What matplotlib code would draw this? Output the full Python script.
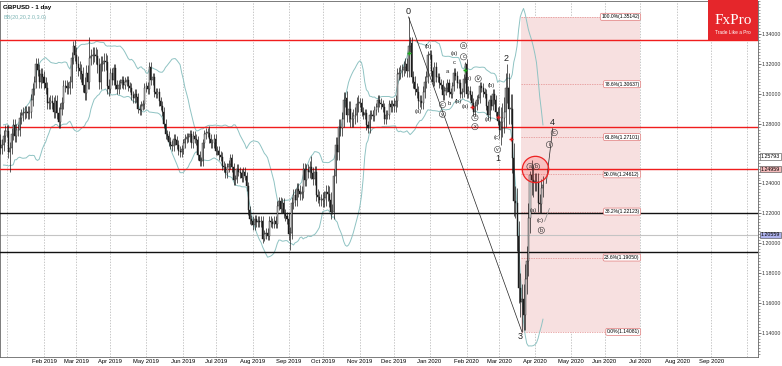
import numpy as np
import pandas as pd
import matplotlib
matplotlib.use("Agg")
import matplotlib.pyplot as plt
from matplotlib.patches import Rectangle

plt.rcParams['font.family'] = ['Liberation Sans', 'DejaVu Sans']

# daily closes per month (business days)
dec18 = [1.2740, 1.2720, 1.2730, 1.2770, 1.2730, 1.2560, 1.2490, 1.2640, 1.2580, 1.2580,
         1.2640, 1.2650, 1.2640, 1.2670, 1.2640, 1.2660, 1.2690, 1.2640, 1.2660, 1.2720, 1.2750]
jan19 = [1.2750, 1.2610, 1.2640, 1.2730, 1.2790, 1.2720, 1.2760, 1.2760, 1.2840, 1.2860,
         1.2870, 1.2880, 1.2880, 1.2870, 1.2880, 1.2960, 1.3030, 1.3080, 1.3200, 1.3160,
         1.3080, 1.3130, 1.3110]
feb19 = [1.3075, 1.3040, 1.2940, 1.2940, 1.2950, 1.2940, 1.2880, 1.2950, 1.2870, 1.2810,
         1.2900, 1.2940, 1.3050, 1.3050, 1.3040, 1.3040, 1.3080, 1.3240, 1.3320, 1.3260]
mar19 = [1.3200, 1.3170, 1.3150, 1.3130, 1.3060, 1.3005, 1.3140, 1.3080, 1.3240, 1.3250,
         1.3260, 1.3260, 1.3250, 1.3190, 1.3080, 1.3200, 1.3200, 1.3220, 1.3210, 1.3050, 1.3035]
apr19 = [1.3140, 1.3090, 1.3170, 1.3060, 1.3030, 1.3060, 1.3070, 1.3090, 1.3060, 1.3080,
         1.3090, 1.3050, 1.3040, 1.2990, 1.2970, 1.3000, 1.2975, 1.2900, 1.2890, 1.2920,
         1.2930, 1.3040]
may19 = [1.3050, 1.3030, 1.3180, 1.3090, 1.3110, 1.3010, 1.3000, 1.3010, 1.2950, 1.2920,
         1.2880, 1.2800, 1.2730, 1.2720, 1.2680, 1.2660, 1.2650, 1.2700, 1.2690, 1.2660,
         1.2620, 1.2610, 1.2630]
jun19 = [1.2670, 1.2700, 1.2710, 1.2710, 1.2730, 1.2670, 1.2720, 1.2700, 1.2690, 1.2590,
         1.2550, 1.2550, 1.2670, 1.2730, 1.2740, 1.2740, 1.2700, 1.2670, 1.2670, 1.2700]
jul19 = [1.2620, 1.2620, 1.2590, 1.2580, 1.2520, 1.2510, 1.2470, 1.2510, 1.2530, 1.2570,
         1.2510, 1.2420, 1.2430, 1.2500, 1.2480, 1.2470, 1.2440, 1.2480, 1.2450, 1.2380,
         1.2220, 1.2160, 1.2150]
aug19 = [1.2120, 1.2160, 1.2140, 1.2150, 1.2140, 1.2150, 1.2030, 1.2060, 1.2070, 1.2050,
         1.2150, 1.2140, 1.2130, 1.2150, 1.2130, 1.2250, 1.2280, 1.2230, 1.2270, 1.2200,
         1.2180, 1.2160]
sep19 = [1.2060, 1.2070, 1.2270, 1.2320, 1.2290, 1.2360, 1.2350, 1.2330, 1.2340, 1.2500,
         1.2420, 1.2490, 1.2480, 1.2510, 1.2470, 1.2430, 1.2480, 1.2320, 1.2310, 1.2290, 1.2290]
oct19 = [1.2290, 1.2300, 1.2340, 1.2330, 1.2290, 1.2210, 1.2210, 1.2450, 1.2660, 1.2610,
         1.2780, 1.2770, 1.2830, 1.2960, 1.2970, 1.2860, 1.2900, 1.2830, 1.2830, 1.2850,
         1.2860, 1.2930, 1.2940]
nov19 = [1.2940, 1.2880, 1.2860, 1.2870, 1.2790, 1.2770, 1.2860, 1.2860, 1.2850, 1.2890,
         1.2910, 1.2960, 1.2940, 1.2930, 1.2910, 1.2830, 1.2860, 1.2860, 1.2930, 1.2910, 1.2930]
dec19 = [1.2920, 1.2950, 1.3130, 1.3140, 1.3150, 1.3160, 1.3180, 1.3200, 1.3150, 1.3320,
         1.3340, 1.3110, 1.3080, 1.3030, 1.3010, 1.2950, 1.2950, 1.2940, 1.3010, 1.3080,
         1.3110, 1.3260]
jan20 = [1.3260, 1.3150, 1.3080, 1.3180, 1.3110, 1.3110, 1.3070, 1.3060, 1.2990, 1.3020,
         1.3040, 1.3070, 1.3010, 1.3000, 1.3050, 1.3140, 1.3120, 1.3070, 1.3070, 1.3000,
         1.3010, 1.3100, 1.3200]
feb20 = [1.3000, 1.3020, 1.2990, 1.2940, 1.2880, 1.2920, 1.2960, 1.2970, 1.3050, 1.3040,
         1.3010, 1.3000, 1.2920, 1.2860, 1.2960, 1.2920, 1.3000, 1.2960, 1.2880, 1.2820]
mar20 = [1.2760, 1.2810, 1.2840, 1.2880, 1.3040, 1.3040, 1.2900, 1.2900, 1.2570, 1.2280,
         1.2270, 1.2050, 1.1700, 1.1610, 1.1630, 1.1520, 1.1760, 1.1880, 1.2170, 1.2460,
         1.2420, 1.2410]
apr20 = [1.2410, 1.2410, 1.2270, 1.2265, 1.2370, 1.2390]

months = [dec18, jan19, feb19, mar19, apr19, may19, jun19, jul19, aug19, sep19,
          oct19, nov19, dec19, jan20, feb20, mar20, apr20]
# typical wick beyond the body, per month
wick_m = [0.004, 0.004, 0.004, 0.005, 0.003, 0.003, 0.003, 0.003, 0.003, 0.004,
          0.005, 0.003, 0.004, 0.003, 0.003, 0.010, 0.006]
# single days with a notable high / low
extremes = {
    '2019-01-03': (None, 1.2480), '2019-02-27': (1.3350, None), '2019-03-13': (1.3380, None),
    '2019-06-25': (1.2784, None), '2019-08-12': (None, 1.2015), '2019-09-03': (None, 1.1958),
    '2019-09-20': (1.2582, None), '2019-10-09': (None, 1.2196), '2019-10-21': (1.3012, None),
    '2019-12-13': (1.3514, None), '2019-12-23': (None, 1.2900), '2019-12-31': (1.3285, None),
    '2020-01-31': (1.3210, None), '2020-03-02': (None, 1.2725), '2020-03-09': (1.3200, None),
    '2020-03-20': (None, 1.1409), '2020-03-27': (1.2485, None),
}

h_red = [1.3357, 1.2780, 1.2496]
h_black = [1.2200, 1.1945]
h_gray = [1.20559]

fib_pct = ['0.0', '23.6', '38.2', '50.0', '61.8', '78.6', '100.0']
fib_val = [1.14081, 1.19050, 1.22123, 1.24612, 1.27101, 1.30637, 1.35142]

axis_tags = [('1.25793', 1.25793, 'white'), ('1.24959', 1.24959, '#f3b9b9'),
             ('1.20559', 1.20559, '#aeb2ec')]

# wave labels: date, price, text, kind
waves = [
    ('2019-12-13', 1.3553, '0', 'big'), ('2019-12-23', 1.2880, '(a)', ''),
    ('2019-12-31', 1.3313, '(b)', ''), ('2020-01-13', 1.2927, 'c', 'circ'),
    ('2020-01-17', 1.2933, 'b', ''), ('2020-01-13', 1.2863, 'y', 'circ'),
    ('2020-01-16', 1.3147, 'a', ''), ('2020-01-22', 1.3207, 'c', ''),
    ('2020-01-22', 1.3267, '(a)', ''), ('2020-01-30', 1.3322, 'a', 'circ'),
    ('2020-01-30', 1.3247, 'c', 'circ'), ('2020-01-27', 1.2947, '(b)', ''),
    ('2020-01-31', 1.2913, '(a)', ''), ('2020-02-04', 1.3100, '(b)', ''),
    ('2020-02-12', 1.3100, 'iv', 'circ'), ('2020-02-24', 1.3053, '(b)', ''),
    ('2020-02-10', 1.2840, 'c', 'circ'), ('2020-02-20', 1.2827, '(a)', ''),
    ('2020-02-10', 1.2780, 'x', 'circ'), ('2020-02-28', 1.2707, '(c)', ''),
    ('2020-02-28', 1.2627, 'v', 'circ'), ('2020-02-28', 1.2570, '1', 'big'),
    ('2020-03-06', 1.3235, '2', 'big'), ('2020-03-19', 1.1375, '3', 'big'),
    ('2020-03-27', 1.2513, 'a', 'circ'), ('2020-04-02', 1.2513, 'b', 'circ'),
    ('2020-03-31', 1.2220, '(a)', ''), ('2020-04-06', 1.2153, '(c)', ''),
    ('2020-04-07', 1.2087, 'b', 'circ'), ('2020-04-14', 1.2660, 'i', 'circ'),
    ('2020-04-17', 1.2740, 'c', 'circ'), ('2020-04-16', 1.2807, '4', 'big'),
]
marks_green = [('2019-12-13', 1.3273), ('2020-01-31', 1.3160)]
marks_red = [('2020-02-06', 1.2913), ('2020-02-28', 1.2847), ('2020-03-11', 1.2700)]

# ---------------------------------------------------------------
cal = pd.bdate_range('2018-12-03', '2020-10-30')
closes = np.array(sum(months, []))
wick = np.concatenate([[w] * len(m) for w, m in zip(wick_m, months)])
x = np.arange(len(closes))
opens = np.r_[closes[0], closes[:-1]]
highs = np.maximum(opens, closes) + wick
lows = np.minimum(opens, closes) - wick
for d, (hi, lo) in extremes.items():
    i = cal.get_loc(pd.Timestamp(d))
    if hi is not None:
        highs[i] = hi
    if lo is not None:
        lows[i] = lo

def X(d):
    return cal.get_loc(pd.Timestamp(d))

s = pd.Series(closes)
mid = s.rolling(20).mean()
sd = s.rolling(20).std(ddof=0)
bb_up = mid + 2.0 * sd
bb_dn = mid - 2.0 * sd

W, H = 782, 366
fig = plt.figure(figsize=(W / 100, H / 100), dpi=100)
ax = fig.add_axes([0, 9 / H, 758 / W, 356 / H])

ppb = 1.62
x0 = X('2019-02-01') - 44 / ppb
ax.set_xlim(x0, x0 + 758 / ppb)
ax.set_ylim(1.124, 1.34 + 32 / 1500)

# month grid
mstarts = []
for y in range(2019, 2021):
    for m in range(1, 13):
        t = pd.Timestamp(y, m, 1)
        i = cal.searchsorted(t)
        if i < len(cal) and x0 < i < x0 + 758 / ppb:
            mstarts.append((i, t))
for i, t in mstarts:
    ax.axvline(i, color='#b0b0b0', lw=0.5, ls=(0, (2, 2)), zorder=0)
ax.set_xticks([i for i, t in mstarts])
ax.set_xticklabels([t.strftime('%b %Y') if (t.year, t.month) not in [(2019, 1), (2020, 10)] else ''
                    for i, t in mstarts], fontsize=4.2)
ax.tick_params(axis='x', length=0, pad=1.2)

# fibonacci box
f0 = X('2020-03-20') - 0.6
f1 = X('2020-07-01')
ax.add_patch(Rectangle((f0, fib_val[0]), f1 - f0, fib_val[-1] - fib_val[0],
                       facecolor='#f7e0e0', edgecolor='none', zorder=0.5))
for p, v in zip(fib_pct, fib_val):
    ax.plot([f0, f1], [v, v], color='#e38c8c', lw=0.5, ls=(0, (2, 1.5)), zorder=0.6)
    ax.text(f1 - 0.3, v, '%s%%(%.5f)' % (p, v), fontsize=3.6, ha='right', va='center', zorder=6,
            bbox=dict(boxstyle='round,pad=0.2,rounding_size=0.3', fc='white', ec='#e07a7a', lw=0.5))

# horizontal levels
for v in h_red:
    ax.axhline(v, color='#f01d1d', lw=1.0, zorder=3)
for v in h_black:
    ax.axhline(v, color='#111111', lw=1.0, zorder=3)
for v in h_gray:
    ax.axhline(v, color='#c4c4c4', lw=0.8, zorder=1)

# bollinger bands
ax.plot(x, bb_up, color='#8fc3c3', lw=0.7, zorder=2)
ax.plot(x, bb_dn, color='#8fc3c3', lw=0.7, zorder=2)

# candles
up = closes >= opens
ax.vlines(x, lows, highs, color='#1c1c1c', lw=0.5, zorder=4)
body_lo = np.minimum(opens, closes)
body_h = np.maximum(np.abs(closes - opens), 0.0004)
ax.bar(x[up], body_h[up], bottom=body_lo[up], width=0.62, color='#d6d6d6',
       edgecolor='#1c1c1c', lw=0.3, zorder=4.5)
ax.bar(x[~up], body_h[~up], bottom=body_lo[~up], width=0.62, color='#1c1c1c',
       edgecolor='#1c1c1c', lw=0.3, zorder=4.5)

for d, v in marks_green:
    ax.plot(X(d), v, marker='+', color='#1fa81f', ms=3, mew=1.0, zorder=5)
for d, v in marks_red:
    ax.plot(X(d), v, marker='+', color='#e02020', ms=3, mew=1.0, zorder=5)

# wave lines
ax.plot([X('2019-12-13'), X('2020-03-20')], [1.3514, 1.1409], color='#222222', lw=0.5, zorder=5)
ax.plot([X('2020-04-10'), X('2020-04-16')], [1.2400, 1.2767], color='#222222', lw=0.5, zorder=5)
ax.plot([X('2020-04-09'), X('2020-04-14')], [1.2147, 1.2233], color='#888888', lw=0.5, zorder=5)

# red circle around the resistance test
ax.scatter([X('2020-04-01')], [1.2500], s=360, facecolor=(1, 0.2, 0.2, 0.18),
           edgecolor='#ee2222', lw=0.9, zorder=5.5)

for d, v, t, k in waves:
    if k == 'big':
        ax.text(X(d), v, t, fontsize=6.5, ha='center', va='center', color='#222222', zorder=7)
    elif k == 'circ':
        ax.text(X(d), v, t, fontsize=3.8, ha='center', va='center', color='#222222', zorder=7,
                bbox=dict(boxstyle='circle,pad=0.12', fc='none', ec='#333333', lw=0.4))
    else:
        ax.text(X(d), v, t, fontsize=4.2, ha='center', va='center', color='#222222', zorder=7)

# right price axis (1.26000 is hidden behind the 1.25793 tag)
yt = np.arange(1.14, 1.3401, 0.02)
ax.yaxis.tick_right()
ax.set_yticks(yt)
ax.set_yticklabels(['' if abs(v - 1.26) < 1e-6 else '%.5f' % v for v in yt], fontsize=3.8)
ax.set_yticks(np.arange(1.126, 1.362, 0.002), minor=True)
ax.tick_params(axis='y', which='major', length=2, width=0.5, pad=0.8, colors='#333333')
ax.tick_params(axis='y', which='minor', length=1.2, width=0.4, colors='#555555')
for v_lbl, v, fc in axis_tags:
    ax.text(1.004, v, v_lbl, transform=ax.get_yaxis_transform(), fontsize=3.8, va='center',
            ha='left', clip_on=False, zorder=8,
            bbox=dict(boxstyle='square,pad=0.15', fc=fc, ec='#444444', lw=0.4))
for sp in ax.spines.values():
    sp.set_color('#666666')
    sp.set_linewidth(0.6)

ax.text(0.004, 0.988, 'GBPUSD - 1 day', transform=ax.transAxes, fontsize=4.5, weight='bold',
        va='top', ha='left', zorder=8)
ax.text(0.004, 0.962, 'BB(20,20,2.0,3.0)', transform=ax.transAxes, fontsize=4, color='#7fb6b6',
        va='top', ha='left', zorder=8)

# logo
fig.add_artist(Rectangle((708 / W, 1 - 40 / H), 50 / W, 40 / H, transform=fig.transFigure,
                         facecolor='#e5262b', edgecolor='none', zorder=10))
fig.text(733 / W, 1 - 21 / H, 'FxPro', family='Liberation Serif', fontsize=11, color='white',
         ha='center', va='center', zorder=11)
fig.text(733 / W, 1 - 32 / H, 'Trade Like a Pro', fontsize=3.4, color='white',
         ha='center', va='center', zorder=11)

fig.savefig('out.png', dpi=100)
